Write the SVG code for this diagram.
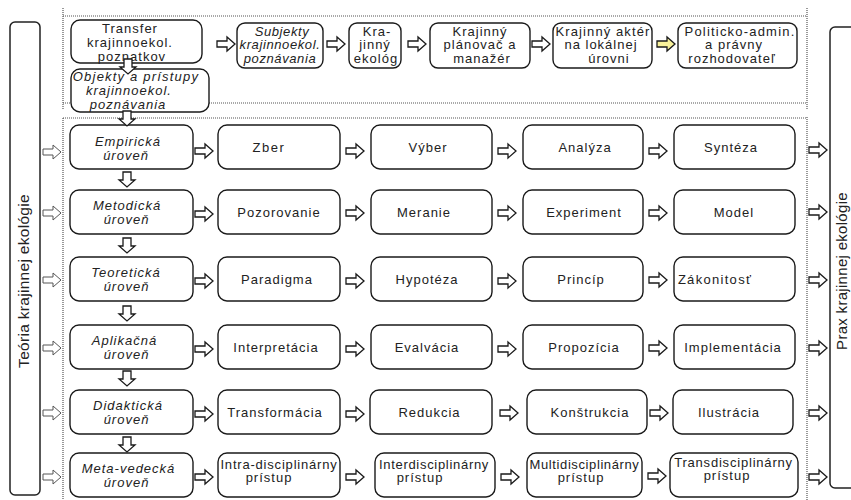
<svg xmlns="http://www.w3.org/2000/svg" xmlns:xlink="http://www.w3.org/1999/xlink" width="851" height="500" viewBox="0 0 851 500">
<style>
.box{fill:#fff;stroke:#1a1a1a;stroke-width:1.4}
.side{fill:#fff;stroke:#222;stroke-width:1.5}
.t{font-family:"Liberation Sans",Arial,sans-serif;font-size:13px;fill:#222;text-anchor:middle;letter-spacing:1px}
.i{font-style:italic}
.v{font-family:"Liberation Sans",Arial,sans-serif;font-size:15px;fill:#222;text-anchor:middle;letter-spacing:0.3px}
.ar{fill:#fff;stroke:#1a1a1a;stroke-width:1.3}
.ay{fill:#f8f19a;stroke:#1a1a1a;stroke-width:1.3}
.al{fill:#fff;stroke:#555;stroke-width:1}
.dot{stroke:#555;stroke-width:1.2;stroke-dasharray:1 1;fill:none}
</style>
<defs>
<path id="ah" d="M0,-3 H10 V-7 L18,0 L10,7 V3 H0 Z"/>
<path id="ad" d="M-4,0 V8 H-8 L0,15 L8,8 H4 V0 Z"/>
</defs>
<rect width="851" height="500" fill="#fff"/>

<g id="frames">
<path class="dot" d="M63,16 H807 M63,103 H807 M63,8 V110 M807,8 V110"/>
<path class="dot" d="M63,118 H807 M63,118 V500 M807,117 V500"/>
</g>

<g id="teoria">
<rect class="side" x="10" y="22" width="30" height="473" rx="5"/>
<text class="v" transform="translate(29,281) rotate(-90)" style="font-size:15.5px">Teória krajinnej ekológie</text>
</g>
<g id="prax">
<rect class="side" x="830" y="27" width="40" height="461" rx="5"/>
<text class="v" transform="translate(847,271) rotate(-90)">Prax krajinnej ekológie</text>
</g>

<g id="transfer">
<rect class="box" x="71" y="20" width="131" height="43" rx="9"/>
<text class="t" x="130" y="33">Transfer</text>
<text class="t" x="130" y="47">krajinnoekol.</text>
<text class="t" x="132" y="61">poznatkov</text>
</g>
<g id="objekty">
<rect class="box" x="71" y="69" width="138" height="43" rx="9"/>
<text class="t i" x="136" y="81" style="letter-spacing:1.2px">Objekty a prístupy</text>
<text class="t i" x="129" y="95">krajinnoekol.</text>
<text class="t i" x="128" y="108.5">poznávania</text>
</g>
<g id="subjekty">
<rect class="box" x="237" y="23" width="86" height="45" rx="8"/>
<text class="t i" x="282" y="35.5" style="letter-spacing:0.6px">Subjekty</text>
<text class="t i" x="280" y="49" style="letter-spacing:0.6px">krajinnoekol.</text>
<text class="t i" x="280" y="62.5" style="letter-spacing:0.6px">poznávania</text>
</g>
<g id="ekolog">
<rect class="box" x="349" y="23" width="52" height="45" rx="8"/>
<text class="t" x="377" y="35.5">Kra-</text>
<text class="t" x="375" y="49">jinný</text>
<text class="t" x="376" y="62.5">ekológ</text>
</g>
<g id="planovac">
<rect class="box" x="430" y="23" width="100" height="45" rx="8"/>
<text class="t" x="480" y="35.5">Krajinný</text>
<text class="t" x="480" y="49">plánovač a</text>
<text class="t" x="482" y="62.5">manažér</text>
</g>
<g id="akter">
<rect class="box" x="553" y="23" width="99" height="45" rx="8"/>
<text class="t" x="603" y="35.5" style="letter-spacing:1.1px">Krajinný aktér</text>
<text class="t" x="601" y="49">na lokálnej</text>
<text class="t" x="609" y="62.5">úrovni</text>
</g>
<g id="politicko">
<rect class="box" x="678" y="23" width="119" height="45" rx="8"/>
<text class="t" x="740" y="35.5" style="letter-spacing:1.2px">Politicko-admin.</text>
<text class="t" x="734" y="49">a právny</text>
<text class="t" x="732" y="62.5">rozhodovateľ</text>
</g>

<!-- row 1 -->
<g id="empiricka">
<rect class="box" x="70" y="125" width="123" height="44" rx="9"/>
<text class="t i" x="128" y="145.5">Empirická</text>
<text class="t i" x="126" y="159.5">úroveň</text>
</g>
<g id="zber"><rect class="box" x="218" y="125" width="122" height="44" rx="9"/><text class="t" x="269" y="152" style="letter-spacing:1.6px">Zber</text></g>
<g id="vyber"><rect class="box" x="371" y="125" width="121" height="44" rx="9"/><text class="t" x="428" y="152">Výber</text></g>
<g id="analyza"><rect class="box" x="523" y="125" width="120" height="44" rx="9"/><text class="t" x="585" y="152">Analýza</text></g>
<g id="synteza"><rect class="box" x="674" y="125" width="121" height="44" rx="9"/><text class="t" x="731" y="152">Syntéza</text></g>

<!-- row 2 -->
<g id="metodicka">
<rect class="box" x="70" y="190" width="123" height="44" rx="9"/>
<text class="t i" x="127" y="210">Metodická</text>
<text class="t i" x="126.5" y="224">úroveň</text>
</g>
<g id="pozorovanie"><rect class="box" x="218" y="190" width="122" height="44" rx="9"/><text class="t" x="279" y="217">Pozorovanie</text></g>
<g id="meranie"><rect class="box" x="371" y="190" width="121" height="44" rx="9"/><text class="t" x="424" y="217">Meranie</text></g>
<g id="experiment"><rect class="box" x="523" y="190" width="120" height="44" rx="9"/><text class="t" x="584" y="217">Experiment</text></g>
<g id="model"><rect class="box" x="674" y="190" width="121" height="44" rx="9"/><text class="t" x="734" y="217">Model</text></g>

<!-- row 3 -->
<g id="teoreticka">
<rect class="box" x="70" y="257" width="123" height="44" rx="9"/>
<text class="t i" x="126" y="277">Teoretická</text>
<text class="t i" x="126.5" y="291">úroveň</text>
</g>
<g id="paradigma"><rect class="box" x="218" y="257" width="122" height="44" rx="9"/><text class="t" x="277" y="284">Paradigma</text></g>
<g id="hypoteza"><rect class="box" x="371" y="257" width="121" height="44" rx="9"/><text class="t" x="427" y="284">Hypotéza</text></g>
<g id="princip"><rect class="box" x="523" y="257" width="120" height="44" rx="9"/><text class="t" x="581" y="284">Princíp</text></g>
<g id="zakonitost"><rect class="box" x="674" y="257" width="121" height="44" rx="9"/><text class="t" x="715" y="284" style="letter-spacing:1.3px">Zákonitosť</text></g>

<!-- row 4 -->
<g id="aplikacna">
<rect class="box" x="70" y="325" width="123" height="44" rx="9"/>
<text class="t i" x="124.5" y="345">Aplikačná</text>
<text class="t i" x="126.5" y="359">úroveň</text>
</g>
<g id="interpretacia"><rect class="box" x="218" y="325" width="122" height="44" rx="9"/><text class="t" x="276" y="352">Interpretácia</text></g>
<g id="evalvacia"><rect class="box" x="371" y="325" width="121" height="44" rx="9"/><text class="t" x="427" y="352">Evalvácia</text></g>
<g id="propozicia"><rect class="box" x="523" y="325" width="120" height="44" rx="9"/><text class="t" x="584" y="352">Propozícia</text></g>
<g id="implementacia"><rect class="box" x="674" y="325" width="121" height="44" rx="9"/><text class="t" x="733" y="352">Implementácia</text></g>

<!-- row 5 -->
<g id="didakticka">
<rect class="box" x="70" y="390" width="123" height="44" rx="9"/>
<text class="t i" x="128" y="410">Didaktická</text>
<text class="t i" x="126.5" y="424">úroveň</text>
</g>
<g id="transformacia"><rect class="box" x="218" y="390" width="122" height="44" rx="9"/><text class="t" x="275" y="417">Transformácia</text></g>
<g id="redukcia"><rect class="box" x="370" y="390" width="122" height="44" rx="9"/><text class="t" x="429.5" y="417">Redukcia</text></g>
<g id="konstrukcia"><rect class="box" x="527" y="390" width="120" height="44" rx="9"/><text class="t" x="590" y="417">Konštrukcia</text></g>
<g id="ilustracia"><rect class="box" x="673" y="390" width="120" height="44" rx="9"/><text class="t" x="729" y="417">Ilustrácia</text></g>

<!-- row 6 -->
<g id="metavedecka">
<rect class="box" x="70" y="453" width="123" height="44" rx="9"/>
<text class="t i" x="128.5" y="473">Meta-vedecká</text>
<text class="t i" x="126.5" y="487">úroveň</text>
</g>
<g id="intra"><rect class="box" x="218" y="453" width="122" height="44" rx="9"/><text class="t" x="279" y="468.5" style="letter-spacing:0.8px">Intra-disciplinárny</text><text class="t" x="269" y="482">prístup</text></g>
<g id="inter"><rect class="box" x="375" y="453" width="120" height="44" rx="9"/><text class="t" x="434" y="468.5" style="letter-spacing:0.7px">Interdisciplinárny</text><text class="t" x="420" y="482">prístup</text></g>
<g id="multi"><rect class="box" x="527" y="453" width="115" height="44" rx="9"/><text class="t" x="584.5" y="468.5" style="letter-spacing:0.6px">Multidisciplinárny</text><text class="t" x="581" y="482">prístup</text></g>
<g id="trans"><rect class="box" x="670" y="453" width="128" height="44" rx="9"/><text class="t" x="733.5" y="466.5" style="letter-spacing:0.8px">Transdisciplinárny</text><text class="t" x="727" y="480">prístup</text></g>

<g id="connectors">
<!-- top row -->
<use href="#ah" class="ar" transform="translate(217,44)"/>
<use href="#ah" class="ar" transform="translate(327,44)"/>
<use href="#ah" class="ar" transform="translate(408,44)"/>
<use href="#ah" class="ar" transform="translate(532,44)"/>
<use href="#ah" class="ay" transform="translate(657,44)"/>
<!-- vertical -->
<use href="#ad" class="ar" transform="translate(128,59)"/>
<use href="#ad" class="ar" transform="translate(127,111)"/>
<use href="#ad" class="ar" transform="translate(127,172)"/>
<use href="#ad" class="ar" transform="translate(127,238)"/>
<use href="#ad" class="ar" transform="translate(127,306)"/>
<use href="#ad" class="ar" transform="translate(127,371)"/>
<use href="#ad" class="ar" transform="translate(127,437)"/>
<!-- left inputs -->
<use href="#ah" class="al" transform="translate(43,152)"/>
<use href="#ah" class="al" transform="translate(43,213)"/>
<use href="#ah" class="al" transform="translate(43,280)"/>
<use href="#ah" class="al" transform="translate(43,348)"/>
<use href="#ah" class="al" transform="translate(43,413)"/>
<use href="#ah" class="al" transform="translate(43,477)"/>
<!-- rows -->
<use href="#ah" class="ar" transform="translate(195,151)"/>
<use href="#ah" class="ar" transform="translate(346,151)"/>
<use href="#ah" class="ar" transform="translate(498,151)"/>
<use href="#ah" class="ar" transform="translate(649,151)"/>
<use href="#ah" class="ar" transform="translate(809,150)"/>

<use href="#ah" class="ar" transform="translate(195,214)"/>
<use href="#ah" class="ar" transform="translate(346,213)"/>
<use href="#ah" class="ar" transform="translate(498,213)"/>
<use href="#ah" class="ar" transform="translate(649,213)"/>
<use href="#ah" class="ar" transform="translate(809,212)"/>

<use href="#ah" class="ar" transform="translate(195,281)"/>
<use href="#ah" class="ar" transform="translate(346,281)"/>
<use href="#ah" class="ar" transform="translate(498,281)"/>
<use href="#ah" class="ar" transform="translate(649,280)"/>
<use href="#ah" class="ar" transform="translate(809,280)"/>

<use href="#ah" class="ar" transform="translate(195,349)"/>
<use href="#ah" class="ar" transform="translate(346,349)"/>
<use href="#ah" class="ar" transform="translate(498,349)"/>
<use href="#ah" class="ar" transform="translate(649,348)"/>
<use href="#ah" class="ar" transform="translate(809,348)"/>

<use href="#ah" class="ar" transform="translate(195,414)"/>
<use href="#ah" class="ar" transform="translate(346,414)"/>
<use href="#ah" class="ar" transform="translate(500,413)"/>
<use href="#ah" class="ar" transform="translate(650,413)"/>
<use href="#ah" class="ar" transform="translate(809,413)"/>

<use href="#ah" class="ar" transform="translate(195,477)"/>
<use href="#ah" class="ar" transform="translate(346,477)"/>
<use href="#ah" class="ar" transform="translate(501,477)"/>
<use href="#ah" class="ar" transform="translate(648,476)"/>
<use href="#ah" class="ar" transform="translate(809,477)"/>
</g>
</svg>
